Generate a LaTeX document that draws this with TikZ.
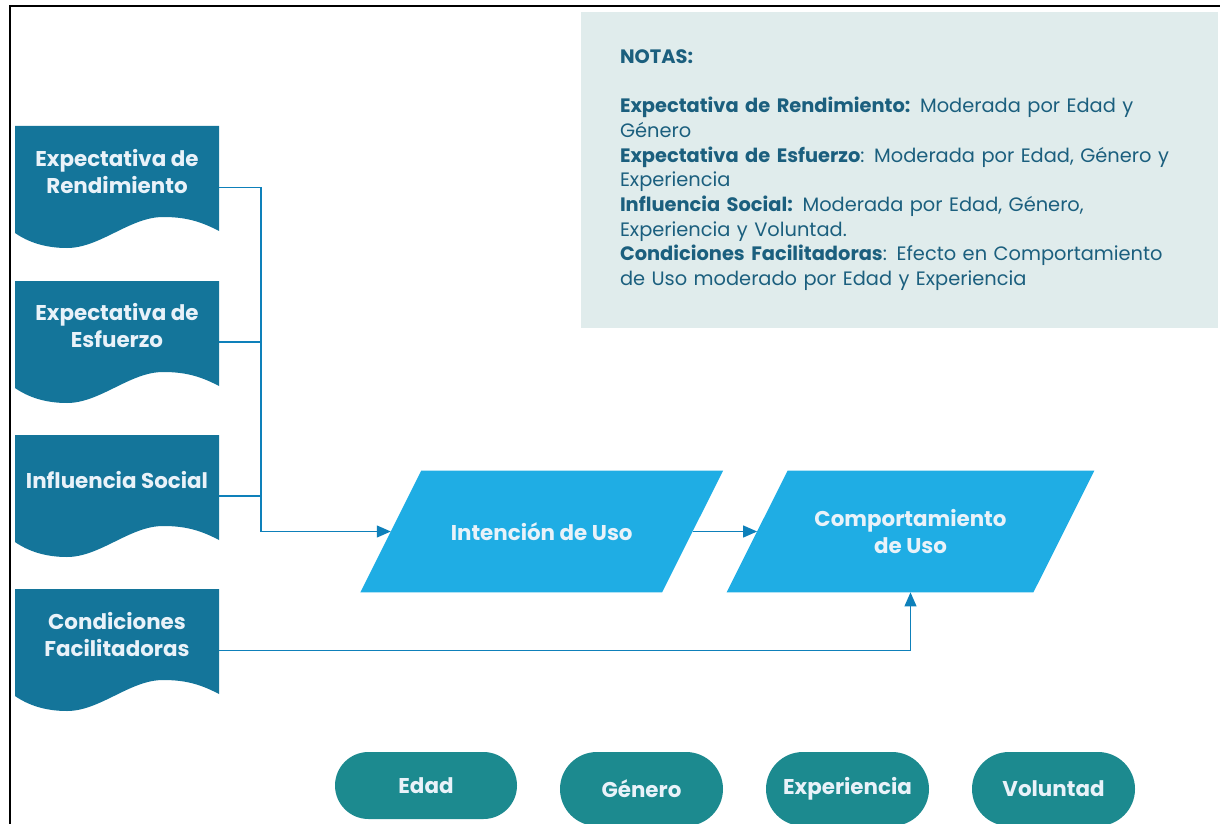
\documentclass[tikz,border=0pt]{standalone}
\usepackage{fontspec}
\setmainfont{Poppins}
\usetikzlibrary{backgrounds,shapes.misc,arrows.meta}

\definecolor{docblue}{HTML}{14759A}
\definecolor{parablue}{HTML}{1FADE4}
\definecolor{pillteal}{HTML}{1C8A8F}
\definecolor{linkblue}{HTML}{0E80BA}
\definecolor{notefill}{HTML}{E0ECEC}
\definecolor{notetext}{HTML}{1B5F7E}
\definecolor{boxtext}{HTML}{E9F2F9}

\tikzset{
  doctext/.style={font=\bfseries\fontsize{10.7}{13.5}\selectfont, text=boxtext, align=center, minimum width=102pt, inner xsep=0pt},
  docfill/.style={fill=docblue},
  para/.style={rectangle, minimum width=150.5pt, minimum height=60.5pt, inner sep=0pt, font=\bfseries\fontsize{10.7}{13.5}\selectfont, text=boxtext, align=center},
  parafill/.style={fill=parablue},
  pill/.style={rounded rectangle, fill=pillteal, minimum width=81.5pt, minimum height=37pt, inner sep=0pt, font=\bfseries\fontsize{10.7}{12}\selectfont, text=boxtext},
  notebox/.style={fill=notefill, text=notetext, minimum height=158pt, text width=279.5pt, inner xsep=19.5pt, align=left, font=\fontsize{9.7}{12.35}\selectfont},
  link/.style={draw=linkblue, line width=0.6pt},
  arrowlink/.style={-{Triangle[length=7pt,width=6pt]}},
}

\begin{document}
\begin{tikzpicture}[x=0.5pt,y=-0.5pt]

		\useasboundingbox (0,0) rectangle (1220,824);
		\draw[line width=1pt] (10,824) -- (10,6) -- (1220,6);

		% wavy document boxes
		\foreach \t in {126,281,435,589}
			\fill[docfill,shift={(0,\t)}] (15,0) -- (219,0) -- (219,105) .. controls (200,95) and (185,91) .. (163,91) .. controls (130,91) and (100,122) .. (67,122) .. controls (45,122) and (28,116) .. (15,107) -- cycle;

		\node[doctext] (er) at (117,171.5) {Expectativa de\\Rendimiento};
		\node[doctext] (ee) at (117,326)   {Expectativa de\\Esfuerzo};
		\node[doctext] (is) at (117,480)   {Influencia Social};
		\node[doctext] (cf) at (117,634.5) {Condiciones\\Facilitadoras};

		\node[para] (iu) at (541.7,531.5) {Intención de Uso};
		\node[para, minimum width=153pt] (cu) at (910.5,531.5) {Comportamiento\\de Uso};

		% parallelograms behind the text
		\begin{scope}[on background layer]
			\foreach \n in {iu,cu}
				\fill[parafill] ([xshift=15.25pt]\n.north west) -- ([xshift=15.25pt]\n.north east) -- ([xshift=-15.25pt]\n.south east) -- ([xshift=-15.25pt]\n.south west) -- cycle;
		\end{scope}

		\node[notebox] (notas) at (899.5,170) {\textbf{NOTAS:}\\[12.35pt]
			\textbf{Expectativa de Rendimiento:} Moderada por Edad y\\
			Género\\
			\textbf{Expectativa de Esfuerzo}: Moderada por Edad, Género y\\
			Experiencia\\
			\textbf{Influencia Social:} Moderada por Edad, Género,\\
			Experiencia y Voluntad.\\
			\textbf{Condiciones Facilitadoras}: Efecto en Comportamiento\\
			de Uso moderado por Edad y Experiencia};

		\node[pill, minimum width=91pt, minimum height=33.5pt] (edad) at (426,785.5) {Edad};
		\node[pill] (gen) at (641.5,789)  {Género};
		\node[pill] (exp) at (847.5,789)  {Experiencia};
		\node[pill] (vol) at (1053.5,789) {Voluntad};

		\coordinate (bus) at (261,531.5);
		\draw[link] ([yshift=-8pt]er.east) -| (bus);
		\draw[link] ([yshift=-8pt]ee.east) -| (bus);
		\draw[link] ([yshift=-8pt]is.east) -| (bus);
		\draw[link,arrowlink] (bus) -- (iu);
		\draw[link,arrowlink] (iu) -- (cu);
		\draw[link,arrowlink] ([yshift=-8pt]cf.east) -| (cu.south);

	\end{tikzpicture}
\end{document}
